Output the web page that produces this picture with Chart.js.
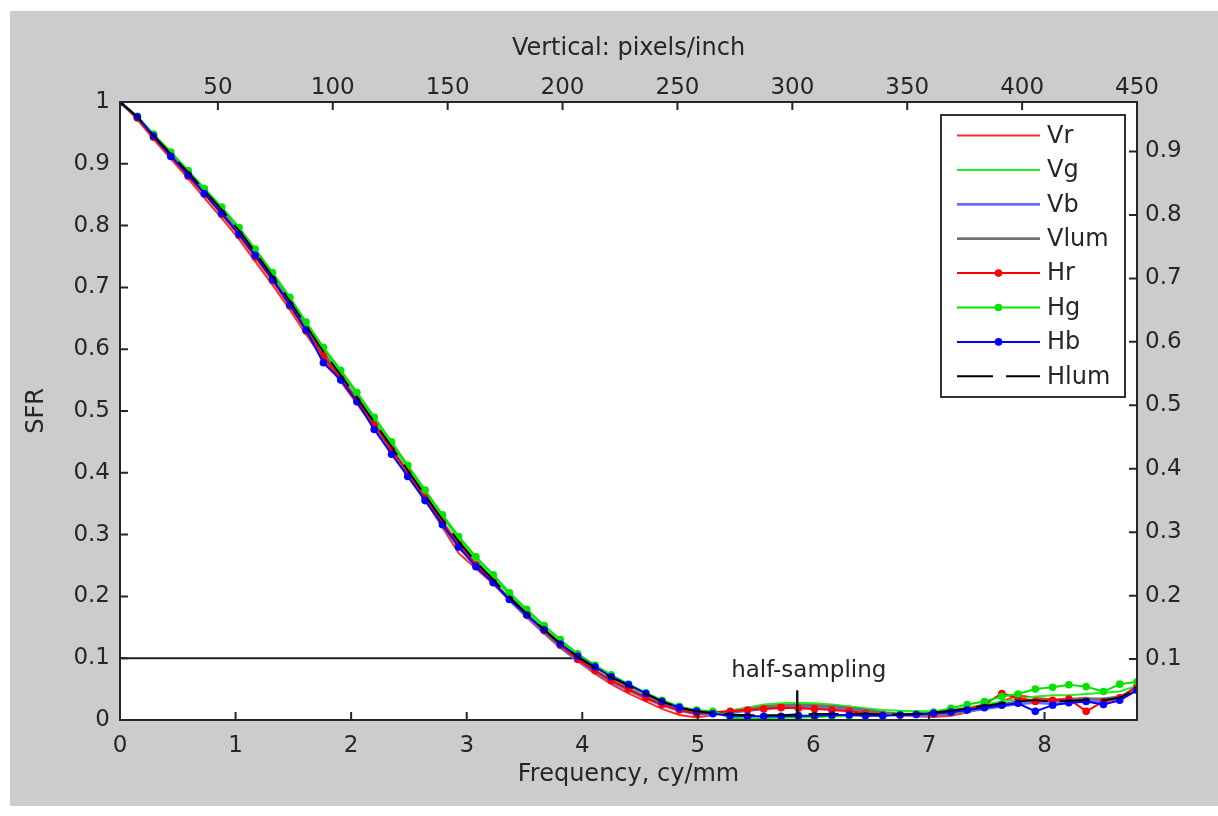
<!DOCTYPE html>
<html>
<head>
<meta charset="utf-8">
<script src="https://cdn.jsdelivr.net/npm/chart.js@4.4.1/dist/chart.umd.min.js"></script>
<style>
html,body{margin:0;padding:0;background:#ffffff;}
canvas{display:block;}
</style>
</head>
<body>
<canvas id="c" width="1218" height="816"></canvas>
<script>
// ---- data ----
const freq = [0,0.15,0.29,0.44,0.59,0.73,0.88,1.03,1.17,1.32,1.47,1.61,1.76,1.91,2.05,2.20,2.35,2.49,2.64,2.79,2.93,3.08,3.23,3.37,3.52,3.67,3.81,3.96,4.11,4.25,4.40,4.55,4.69,4.84,4.99,5.13,5.28,5.43,5.57,5.72,5.87,6.01,6.16,6.31,6.45,6.60,6.75,6.89,7.04,7.19,7.33,7.48,7.63,7.77,7.92,8.07,8.21,8.36,8.51,8.65,8.80];

const Vr = [1.000,0.972,0.940,0.908,0.876,0.845,0.812,0.778,0.742,0.704,0.664,0.624,0.584,0.548,0.512,0.473,0.434,0.396,0.356,0.312,0.270,0.245,0.220,0.194,0.166,0.140,0.117,0.095,0.075,0.058,0.043,0.030,0.018,0.008,0.004,
0.008,0.015,0.020,0.024,0.025,0.024,0.025,0.024,0.022,0.018,0.012,0.008,0.006,0.005,0.007,0.012,0.020,0.030,0.040,0.036,0.033,0.034,0.036,0.030,0.035,0.050];
const Vg = [1.000,0.976,0.947,0.918,0.888,0.859,0.828,0.795,0.760,0.721,0.681,0.641,0.600,0.562,0.526,0.486,0.446,0.408,0.368,0.328,0.293,0.260,0.230,0.202,0.175,0.149,0.126,0.103,0.085,0.069,0.055,0.041,0.029,0.020,0.015,
0.013,0.015,0.020,0.025,0.027,0.028,0.027,0.025,0.022,0.019,0.016,0.015,0.014,0.014,0.016,0.020,0.025,0.030,0.034,0.038,0.040,0.040,0.042,0.044,0.046,0.055];
const Vb = [1.000,0.975,0.945,0.914,0.883,0.853,0.822,0.788,0.753,0.714,0.674,0.634,0.592,0.553,0.517,0.477,0.437,0.398,0.358,0.317,0.280,0.250,0.222,0.194,0.167,0.141,0.118,0.096,0.078,0.062,0.048,0.035,0.024,0.015,0.010,
0.010,0.012,0.015,0.018,0.020,0.021,0.020,0.019,0.016,0.013,0.010,0.008,0.007,0.007,0.010,0.014,0.018,0.022,0.026,0.028,0.026,0.028,0.030,0.030,0.036,0.048];
const Vlum = [1.000,0.975,0.945,0.915,0.884,0.854,0.823,0.789,0.754,0.715,0.675,0.635,0.594,0.555,0.519,0.479,0.439,0.401,0.361,0.320,0.284,0.252,0.223,0.196,0.169,0.143,0.120,0.098,0.080,0.064,0.050,0.037,0.026,0.017,0.012,
0.011,0.013,0.017,0.021,0.023,0.024,0.023,0.022,0.019,0.016,0.012,0.010,0.009,0.009,0.011,0.015,0.020,0.025,0.030,0.032,0.031,0.032,0.034,0.034,0.038,0.050];
const Hr = [1.000,0.974,0.943,0.913,0.880,0.851,0.818,0.784,0.749,0.711,0.670,0.630,0.589,0.552,0.518,0.478,0.438,0.400,0.360,0.320,0.284,0.251,0.223,0.196,0.170,0.145,0.121,0.098,0.080,0.064,0.050,0.036,0.025,0.016,0.010,
0.012,0.014,0.016,0.018,0.020,0.019,0.018,0.016,0.014,0.011,0.009,0.008,0.009,0.010,0.013,0.017,0.025,0.043,0.036,0.030,0.032,0.034,0.014,0.030,0.036,0.055];
const Hg = [1.000,0.977,0.948,0.919,0.889,0.860,0.830,0.797,0.762,0.724,0.684,0.644,0.603,0.566,0.530,0.490,0.450,0.412,0.372,0.332,0.297,0.264,0.235,0.206,0.179,0.153,0.130,0.107,0.089,0.073,0.058,0.044,0.032,0.022,0.016,
0.014,0.004,0.002,0.003,0.004,0.004,0.005,0.006,0.007,0.008,0.008,0.009,0.010,0.013,0.019,0.025,0.030,0.038,0.042,0.050,0.053,0.057,0.054,0.046,0.058,0.062];
const Hb = [1.000,0.976,0.945,0.912,0.882,0.852,0.820,0.786,0.752,0.713,0.672,0.631,0.578,0.550,0.515,0.470,0.430,0.394,0.355,0.316,0.280,0.248,0.222,0.195,0.170,0.146,0.123,0.103,0.086,0.070,0.057,0.043,0.030,0.020,0.014,
0.010,0.007,0.006,0.006,0.006,0.007,0.007,0.008,0.008,0.007,0.007,0.008,0.009,0.011,0.013,0.016,0.020,0.024,0.027,0.014,0.024,0.028,0.030,0.025,0.032,0.048];
const Hlum = [1.000,0.976,0.946,0.916,0.886,0.857,0.826,0.792,0.757,0.718,0.678,0.638,0.596,0.558,0.522,0.482,0.442,0.404,0.364,0.324,0.289,0.256,0.227,0.199,0.172,0.146,0.124,0.102,0.084,0.069,0.055,0.042,0.030,0.020,0.014,
0.012,0.009,0.008,0.008,0.008,0.009,0.010,0.010,0.010,0.010,0.009,0.009,0.010,0.012,0.015,0.019,0.023,0.027,0.030,0.032,0.030,0.031,0.033,0.032,0.036,0.050];

const seriesNames = ['Vr','Vg','Vb','Vlum','Hr','Hg','Hb','Hlum'];
const seriesValues = [Vr,Vg,Vb,Vlum,Hr,Hg,Hb,Hlum];

const refLineX = [0, 3.97];
const refLineY = [0.1, 0.1];
const halfSamplingX = [5.86, 5.86];
const halfSamplingY = [0, 0.048];
const halfSamplingLabel = 'half-sampling';
const halfSamplingLabelPos = [5.96, 0.079];

const bottomTicks = [0,1,2,3,4,5,6,7,8];
const topTicks = [50,100,150,200,250,300,350,400,450];
const leftTicks = [0,0.1,0.2,0.3,0.4,0.5,0.6,0.7,0.8,0.9,1];
const rightTicks = [0.1,0.2,0.3,0.4,0.5,0.6,0.7,0.8,0.9];
const bottomRange = [0, 8.8];
const topRange = [7.4, 450];
const leftRange = [0, 1];
const rightRange = [0.004, 0.978];

const xTitle = 'Frequency, cy/mm';
const x2Title = 'Vertical: pixels/inch';
const yTitle = 'SFR';

// ---- styles ----
const styles = {
  Vr:   {color:'#ff2a2a', width:2, points:false},
  Vg:   {color:'#22ee22', width:2, points:false},
  Vb:   {color:'#6a6aff', width:2.8, points:false},
  Vlum: {color:'#707070', width:2.8, points:false},
  Hr:   {color:'#ff0000', width:2, points:true},
  Hg:   {color:'#00e400', width:2, points:true},
  Hb:   {color:'#0000ff', width:2, points:true},
  Hlum: {color:'#000000', width:1.8, points:false, dash:[30,12]}
};

const FONT = 'DejaVu Sans';
const TEXT = '#262626';

const datasets = seriesNames.map((name, i) => {
  const st = styles[name];
  return {
    label: name,
    data: freq.map((f, k) => ({x: f, y: seriesValues[i][k]})),
    borderColor: st.color,
    backgroundColor: st.color,
    borderWidth: st.width,
    borderDash: st.dash || [],
    pointRadius: st.points ? 3.8 : 0,
    pointBorderWidth: 0,
    pointBackgroundColor: st.color,
    tension: 0,
    fill: false,
    order: 20 - i,
    xAxisID: 'x', yAxisID: 'y'
  };
});
datasets.push({
  label: '_ref',
  data: refLineX.map((x, k) => ({x, y: refLineY[k]})),
  borderColor: '#202020', borderWidth: 2, pointRadius: 0, order: 30,
  xAxisID: 'x', yAxisID: 'y'
});
datasets.push({
  label: '_half',
  data: halfSamplingX.map((x, k) => ({x, y: halfSamplingY[k]})),
  borderColor: '#101010', borderWidth: 2.4, pointRadius: 0, order: 1,
  xAxisID: 'x', yAxisID: 'y'
});

function tickFont(){ return {family: FONT, size: 23}; }

const figurePlugin = {
  id: 'figure',
  beforeDraw(chart) {
    const ctx = chart.ctx, a = chart.chartArea;
    ctx.save();
    ctx.fillStyle = '#ffffff';
    ctx.fillRect(0, 0, chart.width, chart.height);
    ctx.fillStyle = '#cccccc';
    ctx.fillRect(10, 11, chart.width - 10, 795);
    ctx.fillStyle = '#ffffff';
    ctx.fillRect(a.left, a.top, a.right - a.left, a.bottom - a.top);
    ctx.restore();
  },
  afterDatasetsDraw(chart) {
    const ctx = chart.ctx, a = chart.chartArea;
    ctx.save();
    ctx.strokeStyle = '#262626';
    ctx.lineWidth = 2;
    ctx.strokeRect(a.left, a.top, a.right - a.left, a.bottom - a.top);
    const L = 8;
    ctx.beginPath();
    const sx = chart.scales.x, sx2 = chart.scales.x2, sy = chart.scales.y, sy2 = chart.scales.y2;
    sx.ticks.forEach(t => { const p = sx.getPixelForValue(t.value); ctx.moveTo(p, a.bottom); ctx.lineTo(p, a.bottom - L); });
    sx2.ticks.forEach(t => { const p = sx2.getPixelForValue(t.value); ctx.moveTo(p, a.top); ctx.lineTo(p, a.top + L); });
    sy.ticks.forEach(t => { const p = sy.getPixelForValue(t.value); ctx.moveTo(a.left, p); ctx.lineTo(a.left + L, p); });
    sy2.ticks.forEach(t => { const p = sy2.getPixelForValue(t.value); ctx.moveTo(a.right, p); ctx.lineTo(a.right - L, p); });
    ctx.stroke();

    // half-sampling label
    ctx.fillStyle = TEXT;
    ctx.font = '23px "' + FONT + '"';
    ctx.textAlign = 'center';
    ctx.textBaseline = 'middle';
    ctx.fillText(halfSamplingLabel, sx.getPixelForValue(halfSamplingLabelPos[0]), sy.getPixelForValue(halfSamplingLabelPos[1]));

    // legend
    const bx = 941, by = 115, bw = 184, bh = 282;
    ctx.fillStyle = '#ffffff';
    ctx.fillRect(bx, by, bw, bh);
    ctx.strokeStyle = '#333333';
    ctx.lineWidth = 2;
    ctx.strokeRect(bx, by, bw, bh);
    const rowY0 = 135.5, rowStep = 34.4;
    seriesNames.forEach((name, i) => {
      const st = styles[name];
      const yy = rowY0 + i * rowStep;
      ctx.save();
      ctx.strokeStyle = st.color;
      ctx.lineWidth = Math.max(st.width, 2);
      if (st.dash) ctx.setLineDash([36, 13]);
      ctx.beginPath();
      ctx.moveTo(957, yy); ctx.lineTo(1040, yy);
      ctx.stroke();
      ctx.restore();
      if (st.points) {
        ctx.fillStyle = st.color;
        ctx.beginPath(); ctx.arc(998.5, yy, 3.8, 0, Math.PI * 2); ctx.fill();
      }
      ctx.fillStyle = TEXT;
      ctx.font = '24px "' + FONT + '"';
      ctx.textAlign = 'left';
      ctx.textBaseline = 'middle';
      ctx.fillText(name, 1047, yy + 1);
    });
    ctx.restore();
  }
};

const fmt1 = v => (Math.abs(v) < 1e-9 ? '0' : (Math.abs(v - 1) < 1e-9 ? '1' : v.toFixed(1)));

new Chart(document.getElementById('c'), {
  type: 'line',
  data: {datasets},
  plugins: [figurePlugin],
  options: {
    responsive: false,
    animation: false,
    events: [],
    layout: {padding: 0, autoPadding: false},
    plugins: {legend: {display: false}, tooltip: {enabled: false}},
    scales: {
      x: {
        type: 'linear', position: 'bottom', min: bottomRange[0], max: bottomRange[1],
        afterBuildTicks: s => { s.ticks = bottomTicks.map(v => ({value: v})); },
        afterFit: s => { s.height = 96; },
        grid: {display: false, drawTicks: false}, border: {display: false},
        ticks: {font: tickFont(), color: TEXT, padding: 12, maxRotation: 0, autoSkip: false, callback: v => String(v)},
        title: {display: true, text: xTitle, font: {family: FONT, size: 24}, color: TEXT, padding: {top: 0, bottom: 27}}
      },
      x2: {
        type: 'linear', position: 'top', min: topRange[0], max: topRange[1],
        afterBuildTicks: s => { s.ticks = topTicks.map(v => ({value: v})); },
        afterFit: s => { s.height = 102; },
        grid: {display: false, drawTicks: false}, border: {display: false},
        ticks: {font: tickFont(), color: TEXT, padding: 0, maxRotation: 0, autoSkip: false, callback: v => String(v)},
        title: {display: true, text: x2Title, font: {family: FONT, size: 24}, color: TEXT, padding: {top: 34, bottom: 0}}
      },
      y: {
        type: 'linear', position: 'left', min: leftRange[0], max: leftRange[1],
        afterBuildTicks: s => { s.ticks = leftTicks.map(v => ({value: v})); },
        afterFit: s => { s.width = 120; },
        grid: {display: false, drawTicks: false}, border: {display: false},
        ticks: {font: tickFont(), color: TEXT, padding: 10, autoSkip: false, callback: v => fmt1(v)},
        title: {display: true, text: yTitle, font: {family: FONT, size: 24}, color: TEXT, padding: {top: 22, bottom: 0}}
      },
      y2: {
        type: 'linear', position: 'right', min: rightRange[0], max: rightRange[1],
        afterBuildTicks: s => { s.ticks = rightTicks.map(v => ({value: v})); },
        afterFit: s => { s.width = 81; },
        grid: {display: false, drawTicks: false}, border: {display: false},
        ticks: {font: tickFont(), color: TEXT, padding: 8, autoSkip: false, callback: v => fmt1(v)}
      }
    }
  }
});
</script>
</body>
</html>
